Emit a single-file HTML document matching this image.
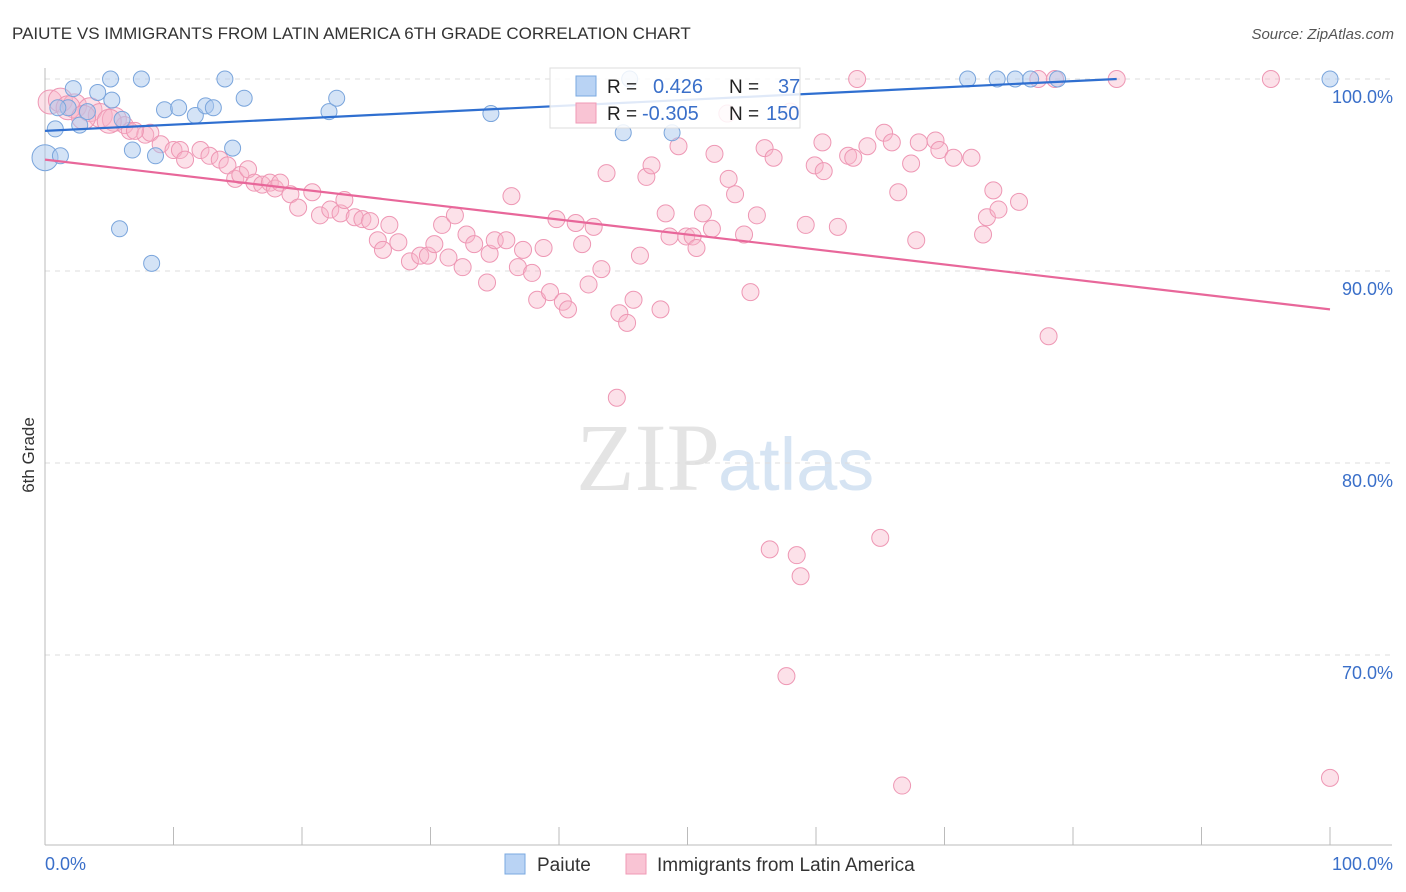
<!DOCTYPE html>
<html><head><meta charset="utf-8">
<style>
body{margin:0;background:#fff;font-family:"Liberation Sans",sans-serif;}
#wrap{position:relative;width:1406px;height:892px;overflow:hidden;}
</style></head>
<body>
<div id="wrap">
<svg id="svg" width="1406" height="892" xmlns="http://www.w3.org/2000/svg">
<text x="12" y="39" font-size="17" fill="#333">PAIUTE VS IMMIGRANTS FROM LATIN AMERICA 6TH GRADE CORRELATION CHART</text>
<text x="1394" y="39" font-size="15" fill="#555" font-style="italic" text-anchor="end">Source: ZipAtlas.com</text>
<text x="720" y="490" font-size="96" fill="#e4e4e4" text-anchor="end" font-family="Liberation Serif,serif">ZIP</text>
<text x="718" y="490" font-size="74" fill="#d6e4f3">atlas</text>
<text transform="translate(34,455) rotate(-90)" font-size="17" fill="#333" text-anchor="middle">6th Grade</text>
<g id="grid"></g><g id="pts"></g><g id="lines"></g>
<g>
<rect x="550" y="68" width="250" height="60" fill="#fff" fill-opacity="0.85" stroke="#ddd"/>
<rect x="576" y="76" width="20" height="20" fill="#b9d3f4" stroke="#7aa8e0"/>
<rect x="576" y="103" width="20" height="20" fill="#f9c4d4" stroke="#f09ab6"/>
<text x="607" y="93" font-size="19" fill="#222">R = </text><text x="653" y="93" font-size="20" fill="#3a6fc9">0.426</text>
<text x="729" y="93" font-size="19" fill="#222">N = </text><text x="778" y="93" font-size="20" fill="#3a6fc9">37</text>
<text x="607" y="120" font-size="19" fill="#222">R = </text><text x="642" y="120" font-size="20" fill="#3a6fc9">-0.305</text>
<text x="729" y="120" font-size="19" fill="#222">N = </text><text x="766" y="120" font-size="20" fill="#3a6fc9">150</text>
</g>
<g>
<rect x="505" y="854" width="20" height="20" fill="#b9d3f4" stroke="#7aa8e0"/>
<text x="537" y="871" font-size="19" fill="#333">Paiute</text>
<rect x="626" y="854" width="20" height="20" fill="#f9c4d4" stroke="#f09ab6"/>
<text x="657" y="871" font-size="19" fill="#333">Immigrants from Latin America</text>
</g>
</svg>
</div>
<script>
const yTicks=[100,90,80,70];
const xTickLabels=["0.0%","100.0%"];
const blueX=[0,0.8,1.2,2.2,2.7,4.1,5.1,5.2,6.0,5.8,6.8,7.5,8.3,8.6,9.3,10.4,11.7,12.5,13.1,14.0,14.6,15.5,22.1,22.7,34.7,45.0,45.5,48.8,71.8,74.1,75.5,76.7,78.8,100,1.8,3.3,1.0];
const blueY=[95.9,97.4,96.0,99.5,97.6,99.3,100,98.9,97.9,92.2,96.3,100,90.4,96.0,98.4,98.5,98.1,98.6,98.5,100,96.4,99.0,98.3,99.0,98.2,97.2,100,97.2,100,100,100,100,100,100,98.5,98.3,98.5];
const pinkX=[0.4,1.2,2.3,3.5,4.3,5.4,6.2,6.6,7.8,8.2,9.0,10.0,10.5,10.9,12.1,12.8,13.6,14.2,14.8,15.2,15.8,16.3,16.9,17.5,17.9,18.3,19.1,19.7,20.8,21.4,22.2,23.0,23.3,24.1,24.7,25.3,25.9,26.3,26.8,27.5,28.4,29.2,29.8,30.3,30.9,31.4,31.9,32.5,32.8,33.4,34.4,34.6,35.0,35.9,36.3,36.8,37.2,37.9,38.3,38.8,39.3,39.8,40.3,40.7,41.3,41.8,42.3,42.7,43.3,43.7,44.5,44.7,45.3,45.8,46.3,46.8,47.2,47.9,48.3,48.6,49.3,49.9,50.4,50.7,51.2,51.9,52.1,53.2,53.7,54.4,54.9,55.4,56.0,56.4,56.7,57.7,58.0,58.5,58.8,59.2,59.9,60.5,60.6,61.7,62.5,62.9,63.2,64.0,65.0,65.3,65.9,66.4,66.7,67.4,67.8,68.0,69.3,69.6,70.7,72.1,73.0,73.3,73.8,74.2,75.8,77.3,78.1,78.6,83.4,95.4,100,53.1,1.8,3.0,5.0,7.0];
const pinkY=[98.8,98.9,98.6,98.4,98.1,97.9,97.6,97.3,97.1,97.2,96.6,96.3,96.3,95.8,96.3,96.0,95.8,95.5,94.8,95.0,95.3,94.6,94.5,94.6,94.3,94.6,94.0,93.3,94.1,92.9,93.2,93.0,93.7,92.8,92.7,92.6,91.6,91.1,92.4,91.5,90.5,90.8,90.8,91.4,92.4,90.7,92.9,90.2,91.9,91.4,89.4,90.9,91.6,91.6,93.9,90.2,91.1,89.9,88.5,91.2,88.9,92.7,88.4,88.0,92.5,91.4,89.3,92.3,90.1,95.1,83.4,87.8,87.3,88.5,90.8,94.9,95.5,88.0,93.0,91.8,96.5,91.8,91.8,91.2,93.0,92.2,96.1,94.8,94.0,91.9,88.9,92.9,96.4,75.5,95.9,68.9,98.3,75.2,74.1,92.4,95.5,96.7,95.2,92.3,96.0,95.9,100,96.5,76.1,97.2,96.7,94.1,63.2,95.6,91.6,96.7,96.8,96.3,95.9,95.9,91.9,92.8,94.2,93.2,93.6,100,86.6,100,100,100,63.6,98.2,98.5,98.0,97.8,97.3];
const blueTrend=[97.3,100.0]; // values at x=0 and x=83.4
const blueTrendX=[0,83.4];
const pinkTrend=[95.8,88.0];
const pinkTrendX=[0,100];
const X0=45,X1=1330;
const sx=v=>X0+(X1-X0)*v/100;
const sy=v=>79+(100-v)*19.2;
const NS="http://www.w3.org/2000/svg";
function mk(tag,attrs,parent){const e=document.createElementNS(NS,tag);for(const k in attrs)e.setAttribute(k,attrs[k]);parent.appendChild(e);return e;}
const grid=document.getElementById('grid');
yTicks.forEach(t=>{
 const l=mk('line',{x1:45,x2:1392,y1:sy(t),y2:sy(t),stroke:'#ddd','stroke-dasharray':'5,5'},grid);
 
 
 const tx=mk('text',{x:1393,y:sy(t)+24,'font-size':18,fill:'#3a6fc9','text-anchor':'end'},grid);
 tx.textContent=t.toFixed(1)+'%';
 
 
});
const ax=mk('line',{x1:45,x2:1392,y1:845,y2:845,stroke:'#bbb'},grid);


const ay=mk('line',{x1:45,x2:45,y1:68,y2:845,stroke:'#bbb'},grid);


for(let i=0;i<=10;i++){
 const t=mk('line',{x1:sx(i*10),x2:sx(i*10),y1:827,y2:845,stroke:'#bbb'},grid);
 
 
}
[[0,'start',45],[1,'end',1393]].forEach(([i,a,x])=>{
 const tx=mk('text',{x:x,y:870,'font-size':18,fill:'#3a6fc9','text-anchor':a},grid);
 tx.textContent=xTickLabels[i];
 
 
});
const pts=document.getElementById('pts');
pinkX.forEach((x,i)=>{
 const r=(x<6&&pinkY[i]>97.5)?12:8.5;
 const c=mk('circle',{cx:sx(x),cy:sy(pinkY[i]),r:r,fill:'#f7b3c8','fill-opacity':0.4,stroke:'#ee97b4','stroke-width':1},pts);
 
 
});
blueX.forEach((x,i)=>{
 const r=i===0?13:8;
 const c=mk('circle',{cx:sx(x),cy:sy(blueY[i]),r:r,fill:'#a9c7ee','fill-opacity':0.5,stroke:'#7aa5dc','stroke-width':1},pts);
 
 
});
const lines=document.getElementById('lines');
const bl=mk('line',{x1:sx(blueTrendX[0]),y1:sy(blueTrend[0]),x2:sx(blueTrendX[1]),y2:sy(blueTrend[1]),stroke:'#2f6fd0','stroke-width':2.2},lines);


const pl=mk('line',{x1:sx(pinkTrendX[0]),y1:sy(pinkTrend[0]),x2:sx(pinkTrendX[1]),y2:sy(pinkTrend[1]),stroke:'#e8679a','stroke-width':2.2},lines);


</script>
</body></html>
